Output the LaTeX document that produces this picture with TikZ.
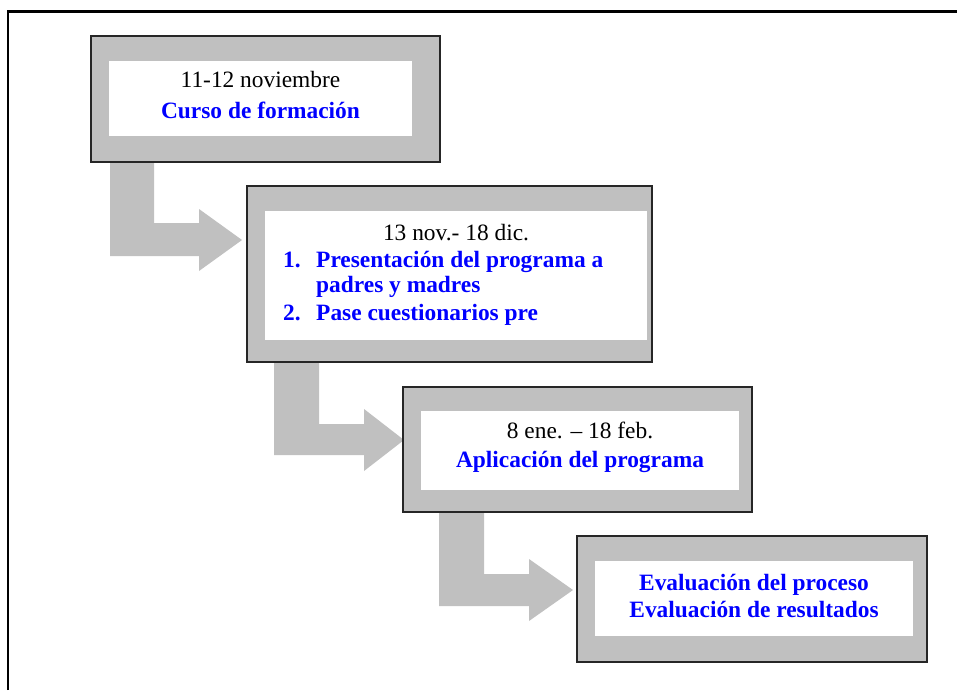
\documentclass[tikz,border=0pt]{standalone}
\usepackage{fontspec}
\setmainfont{Liberation Serif}
\definecolor{silverg}{RGB}{192,192,192}
\definecolor{pureblue}{RGB}{0,0,255}
\begin{document}
\begin{tikzpicture}[x=1pt,y=-1pt,
  outerbox/.style={draw=black!85,line width=1.3pt,fill=silverg,inner sep=0pt,outer sep=0pt},
  innerbox/.style={fill=white,draw=none,inner sep=0pt,outer sep=0pt},
  arrowfill/.style={fill=silverg,draw=none},
  datetxt/.style={font=\fontsize{23.4}{28}\selectfont,text=black,inner sep=0pt,anchor=base},
  titletxt/.style={font=\fontsize{23.4}{28}\selectfont\bfseries,text=pureblue,inner sep=0pt,anchor=base},
  listtxt/.style={font=\fontsize{23.4}{28}\selectfont\bfseries,text=pureblue,inner sep=0pt,anchor=base west}]
\useasboundingbox (0,0) rectangle (957,690);
\fill[white] (0,0) rectangle (957,690);
% frame
\draw[line width=2.5pt] (8,690) -- (8,11.3) -- (957,11.3);

% arrow tips
\coordinate (tip1) at (242,240);
\coordinate (tip2) at (404,440);
\coordinate (tip3) at (573,590);

% arrow 1: b1 -> b2
\fill[arrowfill] (110,162) -- (154,162) -- (154,223) -- (199,223) -- (199,209)
  -- (tip1) -- (199,271) -- (199,256) -- (110,256) -- cycle;
% arrow 2: b2 -> b3
\fill[arrowfill] (274,362) -- (319,362) -- (319,424) -- (364,424) -- (364,409)
  -- (tip2) -- (364,471) -- (364,455) -- (274,455) -- cycle;
% arrow 3: b3 -> b4
\fill[arrowfill] (439,512) -- (484,512) -- (484,574) -- (529,574) -- (529,559)
  -- (tip3) -- (529,621) -- (529,606) -- (439,606) -- cycle;

% boxes
\node[outerbox,minimum width=349,minimum height=126] (b1) at (265.5,99) {};
\node[innerbox,minimum width=303,minimum height=75] (w1) at (260.5,98.5) {};
\node[outerbox,minimum width=405,minimum height=176] (b2) at (449.5,274) {};
\node[innerbox,minimum width=382,minimum height=129] (w2) at (456,275.5) {};
\node[outerbox,minimum width=349,minimum height=125] (b3) at (577.5,449.5) {};
\node[innerbox,minimum width=318,minimum height=79] (w3) at (580,450.5) {};
\node[outerbox,minimum width=350,minimum height=126] (b4) at (752,599) {};
\node[innerbox,minimum width=318,minimum height=75] (w4) at (754,598.5) {};

% texts
\node[datetxt] (d1) at (260.5,88) {11-12 noviembre};
\node[titletxt] (t1) at (260.5,118) {Curso de formación};

\node[datetxt] (d2) at (456,240) {13 nov.- 18 dic.};
\node[listtxt] (n1) at (283,267) {1.};
\node[listtxt] (l1) at (316,267) {Presentación del programa a};
\node[listtxt] (l1b) at (316,292) {padres y madres};
\node[listtxt] (n2) at (283,320) {2.};
\node[listtxt] (l2) at (316,320) {Pase cuestionarios pre};

\node[datetxt] (d3) at (580,438) {8 ene. – 18 feb.};
\node[titletxt] (t3) at (580,467) {Aplicación del programa};

\node[titletxt] (t4a) at (754,590) {Evaluación del proceso};
\node[titletxt] (t4b) at (754,617) {Evaluación de resultados};
\end{tikzpicture}
\end{document}
